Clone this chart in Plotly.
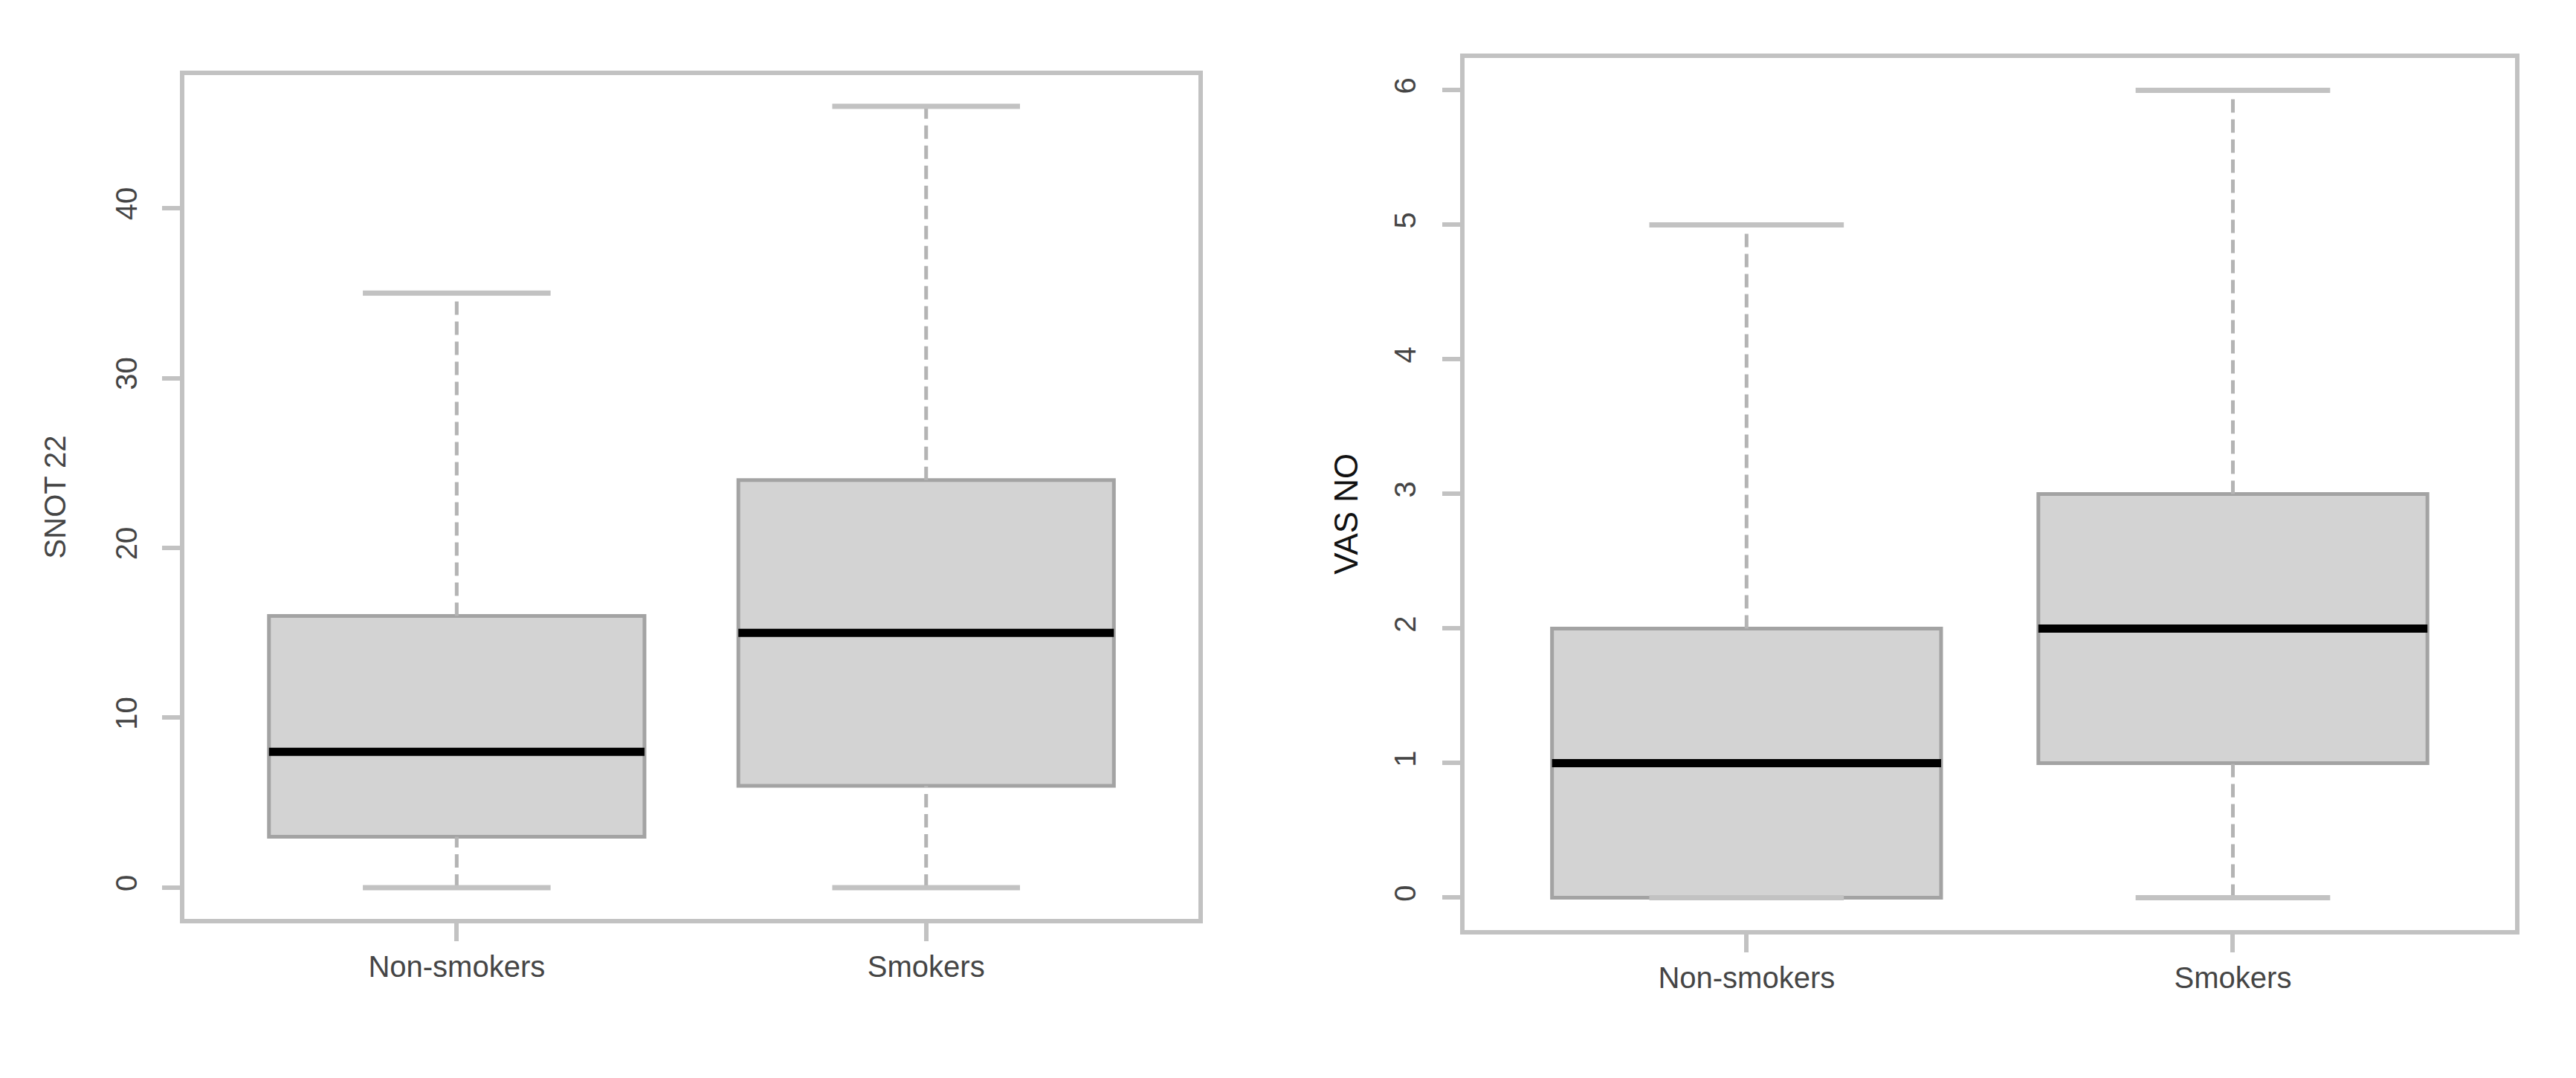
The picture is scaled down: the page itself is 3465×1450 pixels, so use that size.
import plotly.graph_objects as go

# ---- data ----
categories = ["Non-smokers", "Smokers"]

snot_min = [0, 0]
snot_q1 = [3, 6]
snot_median = [8, 15]
snot_q3 = [16, 24]
snot_max = [35, 46]
snot_ticks = [0, 10, 20, 30, 40]
snot_title = "SNOT 22"

vas_min = [0, 0]
vas_q1 = [0, 1]
vas_median = [1, 2]
vas_q3 = [2, 3]
vas_max = [5, 6]
vas_ticks = [0, 1, 2, 3, 4, 5, 6]
vas_title = "VAS NO"

# ---- style ----
FONT = "Liberation Sans, Arial, Helvetica, sans-serif"
FRAME = "#c2c2c2"
BOX_FILL = "#d3d3d3"
BOX_LINE = "#a3a3a3"
WHISK = "#b4b4b4"
CAP = "#c2c2c2"
TXT = "#454545"
BOX_HALF = 0.4
CAP_HALF = 0.2

positions = [i + 1 for i in range(len(categories))]

fig = go.Figure()


def add_panel(xa, ya, mins, q1s, meds, q3s, maxs):
    # dashed whiskers
    wx, wy = [], []
    for p, lo, a, b, hi in zip(positions, mins, q1s, q3s, maxs):
        wx += [p, p, None, p, p, None]
        wy += [b, hi, None, lo, a, None]
    fig.add_trace(go.Scatter(x=wx, y=wy, mode="lines", xaxis=xa, yaxis=ya,
                             line=dict(color=WHISK, width=5, dash="18px,9px"),
                             hoverinfo="skip", showlegend=False))
    # caps (staples)
    cx, cy = [], []
    for p, lo, hi in zip(positions, mins, maxs):
        cx += [p - CAP_HALF, p + CAP_HALF, None, p - CAP_HALF, p + CAP_HALF, None]
        cy += [hi, hi, None, lo, lo, None]
    fig.add_trace(go.Scatter(x=cx, y=cy, mode="lines", xaxis=xa, yaxis=ya,
                             line=dict(color=CAP, width=7),
                             hoverinfo="skip", showlegend=False))
    # boxes
    fig.add_trace(go.Box(x=positions, q1=q1s, median=meds, q3=q3s,
                         lowerfence=q1s, upperfence=q3s, width=2 * BOX_HALF,
                         whiskerwidth=0, fillcolor=BOX_FILL,
                         line=dict(color=BOX_LINE, width=5),
                         xaxis=xa, yaxis=ya, boxpoints=False,
                         hoverinfo="skip", showlegend=False))
    # thick black medians
    mx, my = [], []
    for p, m in zip(positions, meds):
        mx += [p - BOX_HALF, p + BOX_HALF, None]
        my += [m, m, None]
    fig.add_trace(go.Scatter(x=mx, y=my, mode="lines", xaxis=xa, yaxis=ya,
                             line=dict(color="#000000", width=11),
                             hoverinfo="skip", showlegend=False))


add_panel("x", "y", snot_min, snot_q1, snot_median, snot_q3, snot_max)
add_panel("x2", "y2", vas_min, vas_q1, vas_median, vas_q3, vas_max)


def yrange(lo, hi):
    span = hi - lo
    return [lo - 0.04 * span, hi + 0.04 * span]


n = len(categories)
xr = [0.5 - 0.04 * n, n + 0.5 + 0.04 * n]

common = dict(showline=True, mirror=True, linecolor=FRAME, linewidth=6,
              ticks="outside", ticklen=24, tickwidth=6, tickcolor=FRAME,
              showgrid=False, zeroline=False,
              tickfont=dict(family=FONT, size=40, color=TXT))

xcommon = dict(common, range=xr, tickmode="array", tickvals=positions,
               ticktext=categories)

fig.update_layout(
    width=3465, height=1450,
    margin=dict(l=0, r=0, t=0, b=0),
    paper_bgcolor="white", plot_bgcolor="white",
    xaxis=dict(xcommon, domain=[0.0693, 0.4629], anchor="y"),
    yaxis=dict(common, domain=[0.1531, 0.9359], anchor="x",
               range=yrange(min(snot_min), max(snot_max)),
               tickmode="array", tickvals=snot_ticks, tickangle=-90,
               ticklabelstandoff=18),
    xaxis2=dict(xcommon, domain=[0.5662, 0.9740], anchor="y2"),
    yaxis2=dict(common, domain=[0.1428, 0.9517], anchor="x2",
                range=yrange(min(vas_min), max(vas_max)),
                tickmode="array", tickvals=vas_ticks, tickangle=-90,
                ticklabelstandoff=20),
    annotations=[
        dict(text=snot_title, xref="x domain", yref="y domain",
             x=-0.127, y=0.5, xanchor="center", yanchor="middle",
             textangle=-90, showarrow=False,
             font=dict(family=FONT, size=40, color=TXT)),
        dict(text=vas_title, xref="x2 domain", yref="y2 domain",
             x=-0.113, y=0.477, xanchor="center", yanchor="middle",
             textangle=-90, showarrow=False,
             font=dict(family=FONT, size=44, color="#111111")),
    ],
)

fig.write_html("out.html")
